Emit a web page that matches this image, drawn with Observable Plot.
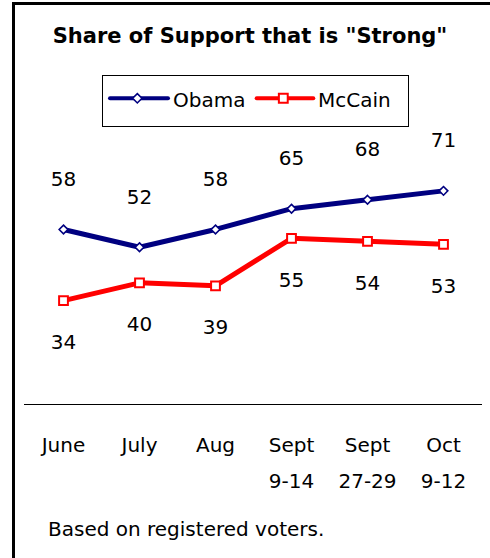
<!DOCTYPE html>
<html><head><meta charset="utf-8">
<script src="https://cdn.jsdelivr.net/npm/d3@7"></script>
<script src="https://cdn.jsdelivr.net/npm/@observablehq/plot@0.6"></script>
<style>
html,body{margin:0;padding:0;background:#fff;}
#wrap{position:relative;width:490px;height:558px;overflow:hidden;font-family:"DejaVu Sans",sans-serif;color:#000;}
#frame{position:absolute;left:12px;top:2px;width:600px;height:700px;border-left:3px solid #000;border-top:3px solid #000;}
#title{position:absolute;left:0;top:25.5px;width:500px;text-align:center;font-weight:bold;font-size:21px;line-height:21px;white-space:nowrap;}
#legend{position:absolute;left:102px;top:75px;width:307px;height:52px;border:1px solid #000;box-sizing:border-box;}
#legend span{position:absolute;top:13.8px;font-size:20px;line-height:20px;white-space:nowrap;}
#legend svg{position:absolute;left:0;top:0;}
#chart{position:absolute;left:0;top:120px;}
#foot{position:absolute;left:48px;top:518.5px;font-size:20px;line-height:20px;white-space:nowrap;}
</style></head>
<body>
<div id="wrap">
  <div id="frame"></div>
  <div id="title">Share of Support that is "Strong"</div>
  <div id="legend"></div>
  <div id="chart"></div>
  <div id="foot">Based on registered voters.</div>
</div>
<script>
const periods = ["June", "July", "Aug", "Sept\n9-14", "Sept\n27-29", "Oct\n9-12"];
const obama = [58, 52, 58, 65, 68, 71];
const mccain = [34, 40, 39, 55, 54, 53];
const seriesNames = ["Obama", "McCain"];
const seriesColors = ["#000080", "#ff0000"];

const obamaRows = periods.map((p, i) => ({period: p, value: obama[i]}));
const mccainRows = periods.map((p, i) => ({period: p, value: mccain[i]}));

const chart = Plot.plot({
  width: 490,
  height: 380,
  marginLeft: 24,
  marginRight: 8,
  marginTop: 14,
  marginBottom: 96,
  style: {background: "none", fontFamily: "DejaVu Sans", fontSize: "20px", color: "#000", overflow: "visible"},
  x: {type: "point", domain: periods, padding: 0.5},
  y: {domain: [-1, 90], axis: null},
  marks: [
    Plot.ruleY([-1], {stroke: "#000", strokeWidth: 1}),
    Plot.axisX({tickSize: 0, tickPadding: 22, fontSize: 20, lineHeight: 1.8, label: null, fill: "#000"}),
    Plot.line(obamaRows, {x: "period", y: "value", stroke: seriesColors[0], strokeWidth: 5}),
    Plot.line(mccainRows, {x: "period", y: "value", stroke: seriesColors[1], strokeWidth: 5}),
    Plot.dot(obamaRows, {x: "period", y: "value", symbol: "diamond2", r: 3.9, fill: "#fff", stroke: seriesColors[0], strokeWidth: 1.6}),
    Plot.dot(mccainRows, {x: "period", y: "value", symbol: "square2", r: 5.6, fill: "#fff", stroke: seriesColors[1], strokeWidth: 2}),
    Plot.text(obamaRows, {x: "period", y: "value", text: d => String(d.value), dy: -50, fontSize: 20, fill: "#000"}),
    Plot.text(mccainRows, {x: "period", y: "value", text: d => String(d.value), dy: 42, fontSize: 20, fill: "#000"})
  ]
});
document.getElementById("chart").appendChild(chart);

// legend
const legend = d3.select("#legend");
const lsvg = legend.append("svg").attr("width", 305).attr("height", 50);
const swatches = [
  {x1: 7, x2: 65, cx: 34.3, sym: d3.symbolDiamond2, size: 55, sw: 1.6, tx: 70},
  {x1: 153.7, x2: 210.3, cx: 180.3, sym: d3.symbolSquare2, size: 100, sw: 2, tx: 215}
];
swatches.forEach((s, i) => {
  lsvg.append("line").attr("x1", s.x1).attr("x2", s.x2).attr("y1", 22.3).attr("y2", 22.3)
    .attr("stroke", seriesColors[i]).attr("stroke-width", 4).attr("stroke-linecap", "round");
  lsvg.append("path").attr("d", d3.symbol(s.sym, s.size)()).attr("transform", `translate(${s.cx},22.3)`)
    .attr("fill", "#fff").attr("stroke", seriesColors[i]).attr("stroke-width", s.sw);
  legend.append("span").style("left", s.tx + "px").text(seriesNames[i]);
});
</script>
</body></html>
